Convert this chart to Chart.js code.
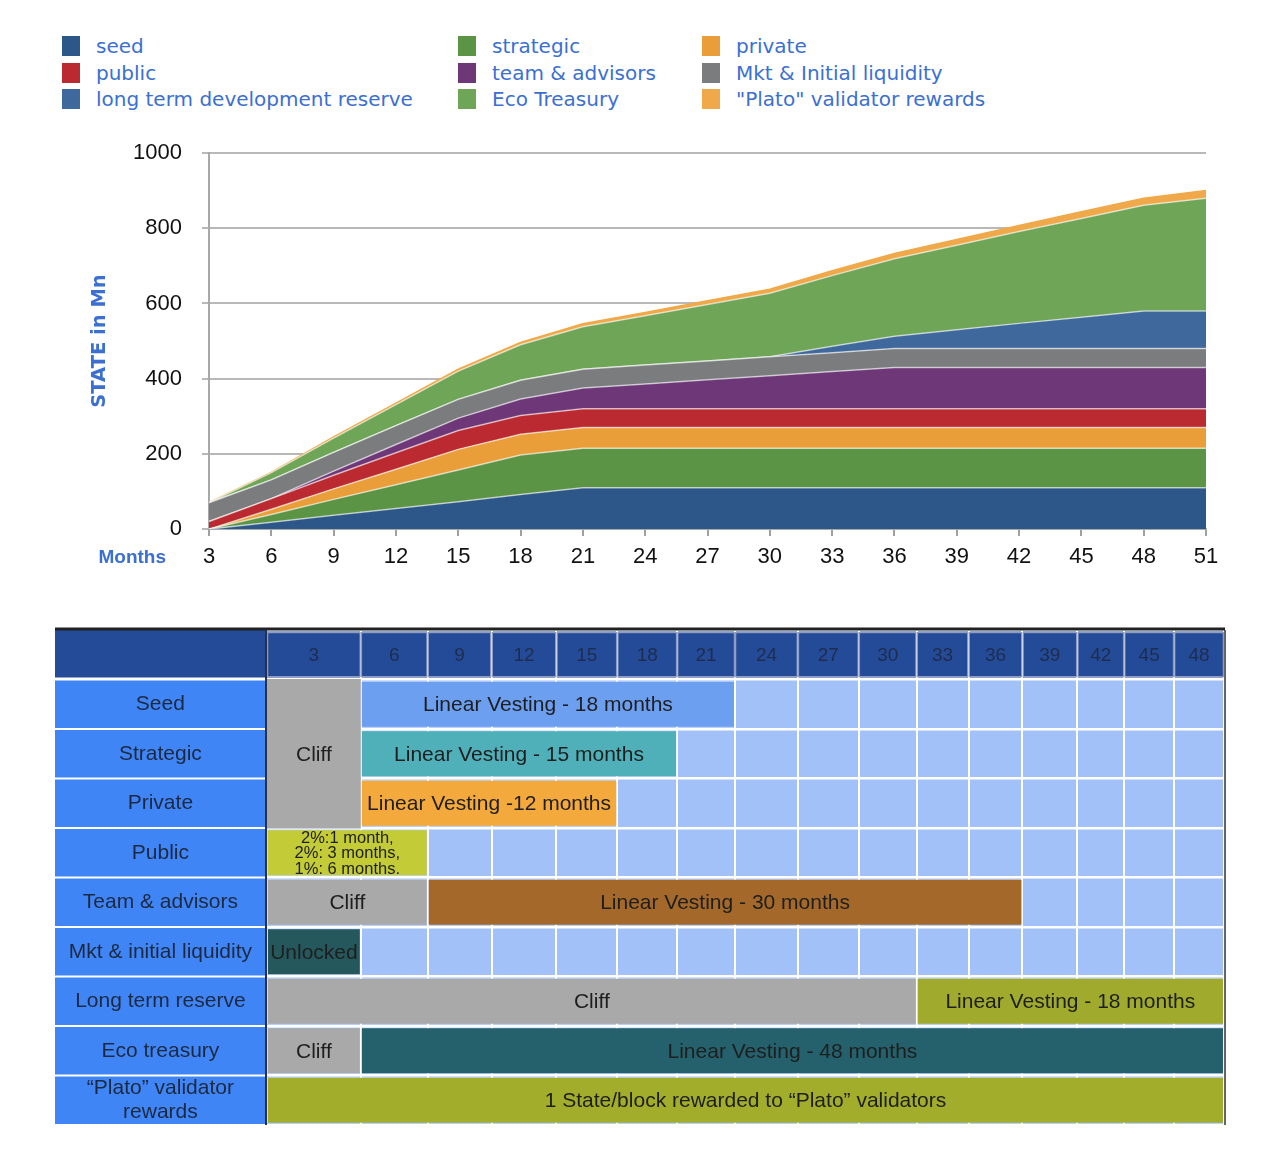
<!DOCTYPE html>
<html>
<head>
<meta charset="utf-8">
<title>STATE token release</title>
<script src="https://cdn.jsdelivr.net/npm/chart.js@4.4.1/dist/chart.umd.min.js"></script>
<style>
  body { margin: 0; background: #fff; }
  #page { position: relative; width: 1280px; height: 1152px; overflow: hidden; }
  #legend {
    position: absolute; left: 62px; top: 33px;
    display: grid; grid-template-rows: repeat(3, 26.5px); grid-auto-flow: column;
    grid-template-columns: 396px 244px 300px;
    font-family: "DejaVu Sans", sans-serif; font-size: 20px; color: #3b6fd2;
  }
  .item { display: flex; align-items: center; white-space: nowrap; }
  .sw { width: 18px; height: 20px; margin-right: 16px; flex: none; }
  #area { position: absolute; left: 0; top: 130px; }
  #table { position: absolute; left: 0; top: 620px; }
</style>
</head>
<body>
<div id="page">
  <div id="legend"></div>
  <canvas id="area" width="1280" height="460"></canvas>
  <canvas id="table" width="1280" height="520"></canvas>
</div>
<script>
Chart.defaults.font.family = '"Liberation Sans", Arial, sans-serif';
Chart.defaults.color = '#111';

// ---------- stacked area: STATE released (Mn) ----------
const months = [3, 6, 9, 12, 15, 18, 21, 24, 27, 30, 33, 36, 39, 42, 45, 48, 51];
const yTicks = [0, 200, 400, 600, 800, 1000];

const seed        = [0, 18, 37, 55, 73, 92, 110, 110, 110, 110, 110, 110, 110, 110, 110, 110, 110];
const strategic   = [0, 21, 42, 63, 84, 105, 105, 105, 105, 105, 105, 105, 105, 105, 105, 105, 105];
const privateSale = [0, 14, 28, 41, 55, 55, 55, 55, 55, 55, 55, 55, 55, 55, 55, 55, 55];
const publicSale  = [20, 28, 36, 44, 50, 50, 50, 50, 50, 50, 50, 50, 50, 50, 50, 50, 50];
const team        = [0, 0, 11, 22, 33, 44, 55, 66, 77, 88, 99, 110, 110, 110, 110, 110, 110];
const mkt         = [50, 50, 50, 50, 50, 50, 50, 50, 50, 50, 50, 50, 50, 50, 50, 50, 50];
const reserve     = [0, 0, 0, 0, 0, 0, 0, 0, 0, 0, 17, 33, 50, 67, 83, 100, 100];
const eco         = [0, 19, 38, 56, 75, 94, 113, 131, 150, 169, 188, 206, 225, 244, 263, 281, 300];
const plato       = [0, 1, 3, 4, 5, 6, 8, 9, 10, 11, 13, 14, 15, 16, 18, 19, 20];

const seriesLabels = ['seed', 'strategic', 'private', 'public', 'team & advisors',
  'Mkt & Initial liquidity', 'long term development reserve', 'Eco Treasury', '"Plato" validator rewards'];
const seriesData = [seed, strategic, privateSale, publicSale, team, mkt, reserve, eco, plato];
const seriesColors = ['#2d5689', '#5b9444', '#e99e3a', '#bb2a30', '#6e3878',
  '#7a7c7d', '#3f689c', '#6ea556', '#f0a94a'];
// legend is laid out column by column
const legendOrder = [0, 3, 6, 1, 4, 7, 2, 5, 8];

const monthsLabel = {
  id: 'monthsLabel',
  afterDraw(chart) {
    const {ctx, chartArea, scales: {x}} = chart;
    ctx.save();
    ctx.font = 'bold 19px "Liberation Sans", Arial, sans-serif';
    ctx.fillStyle = '#3b6fd2';
    ctx.textAlign = 'right';
    ctx.textBaseline = 'middle';
    ctx.fillText('Months', chartArea.left - 43, x.top + 29);
    ctx.restore();
  }
};

const areaChart = new Chart(document.getElementById('area'), {
  type: 'line',
  data: {
    labels: months,
    datasets: seriesData.map((d, i) => ({
      label: seriesLabels[i],
      data: d,
      backgroundColor: seriesColors[i],
      borderColor: i === seriesData.length - 1 ? seriesColors[i] : 'rgba(255,255,255,0.6)',
      borderWidth: 1.5,
      fill: i === 0 ? 'origin' : '-1',
      pointRadius: 0,
      tension: 0
    }))
  },
  options: {
    responsive: false,
    animation: false,
    devicePixelRatio: 1,
    events: [],
    layout: {padding: {left: 84, right: 74, top: 23, bottom: 11.5}},
    plugins: {legend: {display: false}, tooltip: {enabled: false}},
    scales: {
      x: {
        offset: false,
        grid: {drawOnChartArea: false, tickLength: 7, color: '#a0a0a0', lineWidth: 2},
        border: {color: '#a8a8a8', width: 2},
        ticks: {font: {size: 22}, color: '#111', padding: 8, maxRotation: 0, autoSkip: false}
      },
      y: {
        stacked: true,
        min: 0,
        max: 1000,
        afterBuildTicks: s => { s.ticks = yTicks.map(v => ({value: v})); },
        afterFit: s => { s.width = 125; s.paddingTop = 0; s.paddingBottom = 0; },
        grid: {color: '#b8b8b8', lineWidth: 2, tickLength: 7},
        border: {color: '#a8a8a8', width: 2},
        ticks: {font: {size: 22}, color: '#111', padding: 20, callback: v => String(v)},
        title: {
          display: true, text: 'STATE in Mn', color: '#3b6fd2',
          font: {family: '"DejaVu Sans", sans-serif', size: 19.5, weight: 'bold'},
          padding: {top: 4, bottom: 0}
        }
      }
    }
  },
  plugins: [monthsLabel]
});

const legendBox = document.getElementById('legend');
legendOrder.forEach(i => {
  const ds = areaChart.data.datasets[i];
  const item = document.createElement('div');
  item.className = 'item';
  item.innerHTML = '<span class="sw" style="background:' + ds.backgroundColor + '"></span>';
  item.appendChild(document.createTextNode(ds.label));
  legendBox.appendChild(item);
});

// ---------- vesting table ----------
const monthStep = 3;
const tableMonths = [3, 6, 9, 12, 15, 18, 21, 24, 27, 30, 33, 36, 39, 42, 45, 48];
const PLATO_ROW = '“Plato” validator\nrewards';
const tableRows = ['', 'Seed', 'Strategic', 'Private', 'Public', 'Team & advisors',
  'Mkt & initial liquidity', 'Long term reserve', 'Eco treasury', PLATO_ROW];

// shared cliff cell over the first three rows
const cliffRows = ['Seed', 'Strategic', 'Private'];
const cliffText = ['', 'Cliff', ''];
const cliffEnd = 3;

const cellRow = ['Seed', 'Strategic', 'Private', 'Public', 'Team & advisors', 'Team & advisors',
  'Mkt & initial liquidity', 'Long term reserve', 'Long term reserve', 'Eco treasury', 'Eco treasury', PLATO_ROW];
const cellFrom = [3, 3, 3, 0, 0, 6, 0, 0, 30, 0, 3, 0];
const cellTo   = [21, 18, 15, 6, 6, 36, 3, 30, 48, 3, 48, 48];
const cellText = ['Linear Vesting - 18 months', 'Linear Vesting - 15 months', 'Linear Vesting -12 months',
  '2%:1 month,\n2%: 3 months,\n1%: 6 months.', 'Cliff', 'Linear Vesting - 30 months', 'Unlocked',
  'Cliff', 'Linear Vesting - 18 months', 'Cliff', 'Linear Vesting - 48 months',
  '1 State/block rewarded to “Plato” validators'];
const cellColor = ['#6d9ff0', '#4fb0b9', '#f4a93c', '#c3cb37', '#a9a9a9', '#a4692a', '#25585c',
  '#a9a9a9', '#a0ab2d', '#a9a9a9', '#24616c', '#a2ad2c'];

// the month columns of the table are not all equally wide
const colWidths = [95, 67, 64, 65, 61, 60, 58, 63, 61, 58, 52, 54, 55, 47, 50, 50];

class ColumnScale extends Chart.LinearScale {
  static id = 'columns';
  static defaults = {};
  getPixelForValue(value) {
    if (value === null || isNaN(value)) return NaN;
    const total = colWidths.reduce((a, b) => a + b, 0);
    const k = Math.max(0, Math.min(colWidths.length - 1, Math.floor(value / monthStep)));
    let acc = 0;
    for (let i = 0; i < k; i++) acc += colWidths[i];
    acc += colWidths[k] * (value - k * monthStep) / monthStep;
    return this.getPixelForDecimal(acc / total);
  }
  getValueForPixel(pixel) {
    return this.min + this.getDecimalForPixel(pixel) * (this.max - this.min);
  }
}
Chart.register(ColumnScale);

const tablePaint = {
  id: 'tablePaint',
  beforeDraw(chart) {
    const {ctx, chartArea: a, scales: {y}} = chart;
    const h = y.height / tableRows.length;
    ctx.save();
    ctx.fillStyle = '#244b97';
    ctx.fillRect(y.left, a.top, a.right - y.left, h - 2);
    ctx.fillStyle = '#3f85f5';
    for (let i = 1; i < tableRows.length; i++) {
      const c = y.getPixelForValue(i);
      ctx.fillRect(y.left, c - h / 2 + 1, y.width, h - 2);
    }
    ctx.fillStyle = '#a2c1f8';
    ctx.fillRect(a.left, a.top + h, a.width, a.height - h);
    ctx.restore();
  },
  afterDraw(chart) {
    const {ctx, chartArea: a, scales: {y}} = chart;
    ctx.save();
    ctx.strokeStyle = '#222';
    ctx.lineWidth = 3;
    ctx.beginPath(); ctx.moveTo(y.left, a.top - 1); ctx.lineTo(a.right + 1, a.top - 1); ctx.stroke();
    ctx.strokeStyle = '#26324d';
    ctx.lineWidth = 2;
    ctx.beginPath(); ctx.moveTo(a.left, a.top); ctx.lineTo(a.left, a.bottom); ctx.stroke();
    ctx.strokeStyle = '#333';
    ctx.lineWidth = 1.5;
    ctx.beginPath(); ctx.moveTo(a.right + 1, a.top); ctx.lineTo(a.right + 1, a.bottom); ctx.stroke();
    ctx.restore();
  }
};

const cellLabels = {
  id: 'cellLabels',
  afterDatasetsDraw(chart) {
    const ctx = chart.ctx;
    chart.data.datasets.forEach((ds, di) => {
      if (!ds.cellText) return;
      const meta = chart.getDatasetMeta(di);
      meta.data.forEach((bar, j) => {
        const t = ds.cellText[j];
        if (!t) return;
        const {x, base, y} = bar.getProps(['x', 'base', 'y'], true);
        const lines = t.split('\n');
        const size = lines.length > 1 ? 16.5 : ds.textSize;
        const lh = lines.length > 1 ? 15.5 : size;
        ctx.save();
        ctx.font = size + 'px "Liberation Sans", Arial, sans-serif';
        ctx.fillStyle = ds.textColor;
        ctx.textAlign = 'center';
        ctx.textBaseline = 'middle';
        lines.forEach((line, k) => {
          ctx.fillText(line, (x + base) / 2, y + (k - (lines.length - 1) / 2) * lh + 1);
        });
        ctx.restore();
      });
    });
  }
};

new Chart(document.getElementById('table'), {
  type: 'bar',
  data: {
    labels: tableRows,
    datasets: [
      {
        data: tableMonths.map(m => ({y: '', x: [m - monthStep, m]})),
        cellText: tableMonths.map(String),
        textSize: 19, textColor: '#1f2c4f',
        backgroundColor: '#244b97', borderColor: '#8e9cc4', borderWidth: 1.5,
        borderSkipped: false, barPercentage: 0.92
      },
      {
        data: cliffRows.map(r => ({y: r, x: [0, cliffEnd]})),
        cellText: cliffText,
        textSize: 21, textColor: '#222',
        backgroundColor: '#a9a9a9', borderWidth: 0, barPercentage: 1.02
      },
      {
        data: cellRow.map((r, i) => ({y: r, x: [cellFrom[i], cellTo[i]]})),
        cellText: cellText,
        textSize: 21, textColor: '#1e1e1e',
        backgroundColor: cellColor, borderColor: 'rgba(255,255,255,0.45)', borderWidth: 1,
        borderSkipped: false, barPercentage: 0.95
      }
    ]
  },
  options: {
    indexAxis: 'y',
    responsive: false,
    animation: false,
    devicePixelRatio: 1,
    events: [],
    datasets: {bar: {grouped: false, categoryPercentage: 1}},
    layout: {padding: {left: 55, right: 56, top: 10, bottom: 15}},
    plugins: {legend: {display: false}, tooltip: {enabled: false}},
    scales: {
      x: {
        type: 'columns',
        min: tableMonths[0] - monthStep,
        max: tableMonths[tableMonths.length - 1],
        ticks: {display: false, stepSize: monthStep},
        grid: {color: '#ffffff', lineWidth: 2, drawTicks: false},
        border: {display: false}
      },
      y: {
        afterFit: s => { s.width = 211; s.paddingTop = 0; s.paddingBottom = 0; },
        ticks: {
          autoSkip: false, crossAlign: 'center', padding: 14,
          font: {size: 21, lineHeight: 1.1}, color: '#1d2940',
          callback(v) { return this.getLabelForValue(v).split('\n'); }
        },
        grid: {color: '#ffffff', lineWidth: 2.5, drawTicks: false},
        border: {display: false}
      }
    }
  },
  plugins: [tablePaint, cellLabels]
});
</script>
</body>
</html>
